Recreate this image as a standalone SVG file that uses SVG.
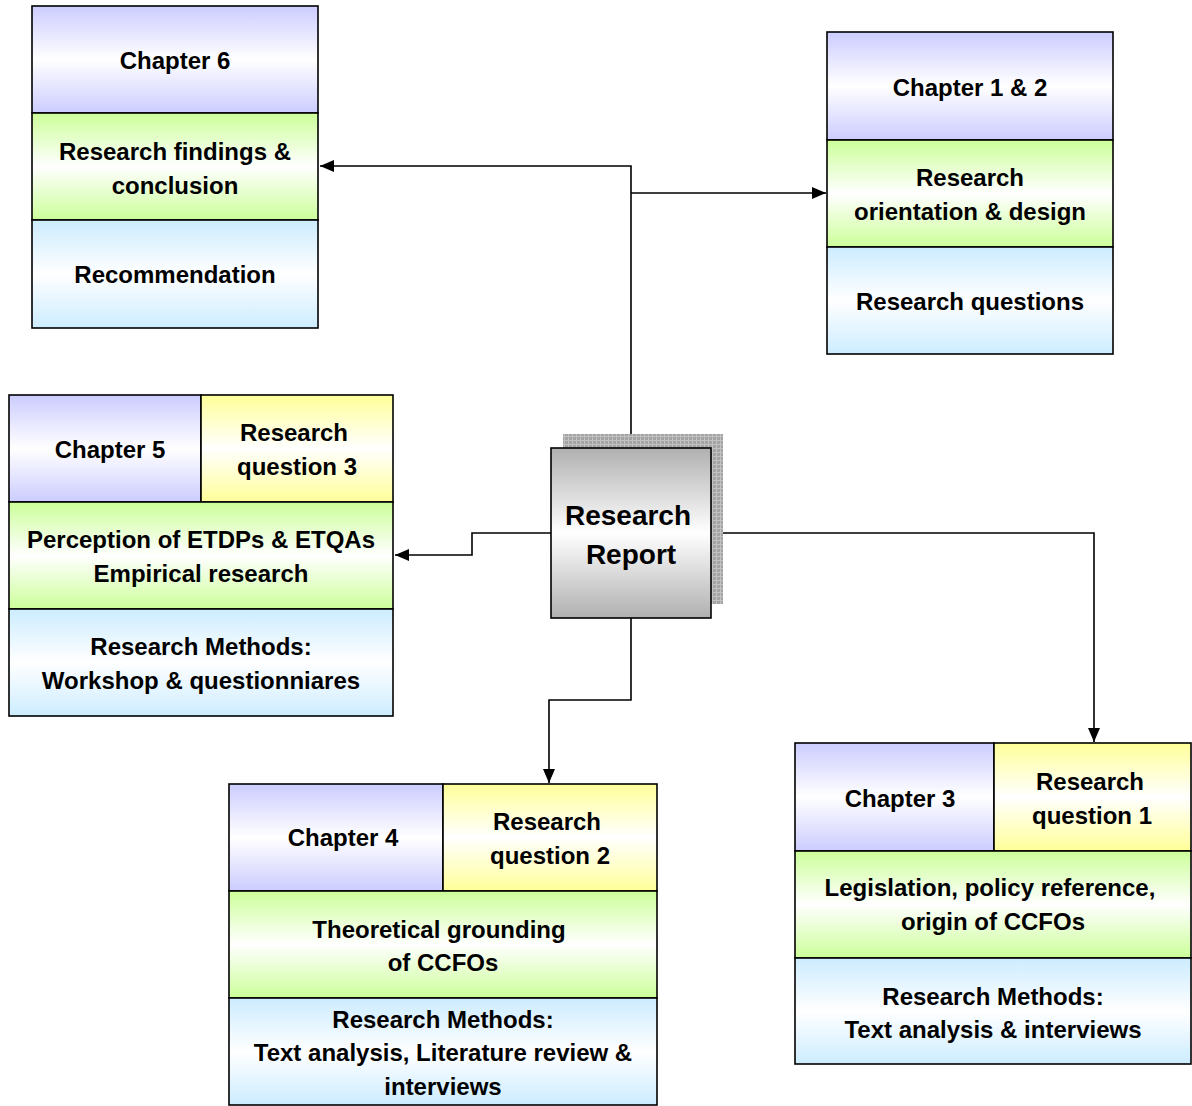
<svg xmlns="http://www.w3.org/2000/svg" width="1192" height="1106" viewBox="0 0 1192 1106">
<style>
.band{stroke:#000;stroke-width:1.6}
.t{font-family:"Liberation Sans",Arial,sans-serif;font-weight:bold;font-size:24px;fill:#000;text-anchor:middle}
.big{font-size:28px}
.conn{fill:none;stroke:#000;stroke-width:1.6}
</style>
<defs>
<linearGradient id="gP" x1="0" y1="0" x2="0" y2="1"><stop offset="0" stop-color="#CCCCFF"/><stop offset="0.5" stop-color="#FFFFFF"/><stop offset="1" stop-color="#CCCCFF"/></linearGradient>
<linearGradient id="gG" x1="0" y1="0" x2="0" y2="1"><stop offset="0" stop-color="#CCFF99"/><stop offset="0.5" stop-color="#FFFFFF"/><stop offset="1" stop-color="#CCFF99"/></linearGradient>
<linearGradient id="gB" x1="0" y1="0" x2="0" y2="1"><stop offset="0" stop-color="#CCECFF"/><stop offset="0.5" stop-color="#FFFFFF"/><stop offset="1" stop-color="#CCECFF"/></linearGradient>
<linearGradient id="gY" x1="0" y1="0" x2="0" y2="1"><stop offset="0" stop-color="#FFFF99"/><stop offset="0.5" stop-color="#FFFFFF"/><stop offset="1" stop-color="#FFFF99"/></linearGradient>
<linearGradient id="gR" x1="0" y1="0" x2="0" y2="1"><stop offset="0" stop-color="#B0B0B0"/><stop offset="0.5" stop-color="#FFFFFF"/><stop offset="1" stop-color="#B0B0B0"/></linearGradient>
<pattern id="grid" width="4" height="4" patternUnits="userSpaceOnUse"><rect width="4" height="4" fill="#A4A4A4"/><path d="M0 0.5H4M0.5 0V4" stroke="#C2C2C2" stroke-width="1"/></pattern>
<marker id="arr" viewBox="0 0 14 12" refX="14" refY="6" markerWidth="14" markerHeight="12" markerUnits="userSpaceOnUse" orient="auto"><path d="M0 0L14 6L0 12Z" fill="#000"/></marker>
</defs>

<g id="connectors">
<path class="conn" d="M631 448V166H320" marker-end="url(#arr)"/>
<path class="conn" d="M631 193H826" marker-end="url(#arr)"/>
<path class="conn" d="M551 533H472V555H395" marker-end="url(#arr)"/>
<path class="conn" d="M711 533H1094V742" marker-end="url(#arr)"/>
<path class="conn" d="M631 618V700H549V783" marker-end="url(#arr)"/>
</g>

<g id="chapter6">
<rect class="band" x="32" y="6" width="286" height="107" fill="url(#gP)"/>
<rect class="band" x="32" y="113" width="286" height="107" fill="url(#gG)"/>
<rect class="band" x="32" y="220" width="286" height="108" fill="url(#gB)"/>
<text class="t" x="175" y="69">Chapter 6</text>
<text class="t" x="175" y="160">Research findings &amp;</text>
<text class="t" x="175" y="194">conclusion</text>
<text class="t" x="175" y="283">Recommendation</text>
</g>

<g id="chapter12">
<rect class="band" x="827" y="32" width="286" height="108" fill="url(#gP)"/>
<rect class="band" x="827" y="140" width="286" height="107" fill="url(#gG)"/>
<rect class="band" x="827" y="247" width="286" height="107" fill="url(#gB)"/>
<text class="t" x="970" y="96">Chapter 1 &amp; 2</text>
<text class="t" x="970" y="186">Research</text>
<text class="t" x="970" y="220">orientation &amp; design</text>
<text class="t" x="970" y="310">Research questions</text>
</g>

<g id="chapter5">
<rect class="band" x="9" y="395" width="192" height="107" fill="url(#gP)"/>
<rect class="band" x="201" y="395" width="192" height="107" fill="url(#gY)"/>
<rect class="band" x="9" y="502" width="384" height="107" fill="url(#gG)"/>
<rect class="band" x="9" y="609" width="384" height="107" fill="url(#gB)"/>
<text class="t" x="110" y="458">Chapter 5</text>
<text class="t" x="294" y="441">Research</text>
<text class="t" x="297" y="475">question 3</text>
<text class="t" x="201" y="548">Perception of ETDPs &amp; ETQAs</text>
<text class="t" x="201" y="582">Empirical research</text>
<text class="t" x="201" y="655">Research Methods:</text>
<text class="t" x="201" y="689">Workshop &amp; questionniares</text>
</g>

<g id="chapter4">
<rect class="band" x="229" y="784" width="214" height="107" fill="url(#gP)"/>
<rect class="band" x="443" y="784" width="214" height="107" fill="url(#gY)"/>
<rect class="band" x="229" y="891" width="428" height="107" fill="url(#gG)"/>
<rect class="band" x="229" y="998" width="428" height="107" fill="url(#gB)"/>
<text class="t" x="343" y="846">Chapter 4</text>
<text class="t" x="547" y="830">Research</text>
<text class="t" x="550" y="864">question 2</text>
<text class="t" x="439" y="938">Theoretical grounding</text>
<text class="t" x="443" y="971">of CCFOs</text>
<text class="t" x="443" y="1028">Research Methods:</text>
<text class="t" x="443" y="1061">Text analysis, Literature review &amp;</text>
<text class="t" x="443" y="1095">interviews</text>
</g>

<g id="chapter3">
<rect class="band" x="795" y="743" width="199" height="108" fill="url(#gP)"/>
<rect class="band" x="994" y="743" width="197" height="108" fill="url(#gY)"/>
<rect class="band" x="795" y="851" width="396" height="107" fill="url(#gG)"/>
<rect class="band" x="795" y="958" width="396" height="106" fill="url(#gB)"/>
<text class="t" x="900" y="807">Chapter 3</text>
<text class="t" x="1090" y="790">Research</text>
<text class="t" x="1092" y="824">question 1</text>
<text class="t" x="990" y="896">Legislation, policy reference,</text>
<text class="t" x="993" y="930">origin of CCFOs</text>
<text class="t" x="993" y="1005">Research Methods:</text>
<text class="t" x="993" y="1038">Text analysis &amp; interviews</text>
</g>

<g id="research-report">
<rect x="563" y="434" width="160" height="170" fill="url(#grid)"/>
<rect class="band" x="551" y="448" width="160" height="170" fill="url(#gR)"/>
<text class="t big" x="628" y="525">Research</text>
<text class="t big" x="631" y="564">Report</text>
</g>
</svg>
